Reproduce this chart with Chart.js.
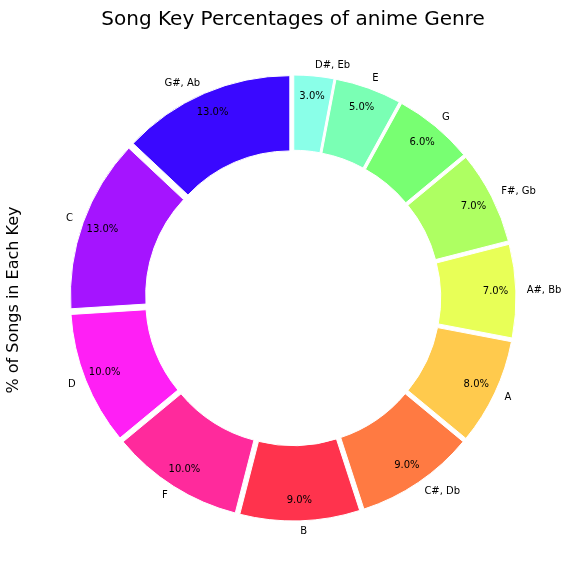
<!DOCTYPE html>
<html>
<head>
  <meta charset="UTF-8">
  <title>Song Key Percentages of anime Genre</title>
  <script src="https://cdn.jsdelivr.net/npm/chart.js"></script>
  <style>
    html, body { margin: 0; padding: 0; background: #fff; }
    #wrap { width: 576px; height: 576px; }
  </style>
</head>
<body>
  <div id="wrap">
    <canvas id="myChart" width="576" height="576"></canvas>
  </div>
  <script>
    // keys, clockwise from 12 o'clock
    const keys = ["D#, Eb", "E", "G", "F#, Gb", "A#, Bb", "A", "C#, Db", "B", "F", "D", "C", "G#, Ab"];
    const percents = [3, 5, 6, 7, 7, 8, 9, 9, 10, 10, 13, 13];
    const colors = [
      '#8affe8', '#7affb4', '#78ff72', '#aeff62', '#e8ff57', '#ffca4d',
      '#ff7a42', '#ff334d', '#ff2a9c', '#ff1ff5', '#a514ff', '#3a08ff'
    ];

    const titleText = 'Song Key Percentages of anime Genre';
    const yLabel = '% of Songs in Each Key';
    const EXPLODE = 8;   // px each slice is pushed out
    const FONT = '"DejaVu Sans", sans-serif';

    // pull slices out like matplotlib explode
    const explodePlugin = {
      id: 'explode',
      beforeDatasetDraw(chart, args) {
        const ctx = chart.ctx;
        args.meta.data.forEach(arc => {
          const mid = (arc.startAngle + arc.endAngle) / 2;
          ctx.save();
          ctx.translate(Math.cos(mid) * EXPLODE, Math.sin(mid) * EXPLODE);
          arc.draw(ctx, chart.chartArea);
          ctx.restore();
        });
        return false;
      }
    };

    // key names, percentages, title and side label
    const textPlugin = {
      id: 'texts',
      afterDatasetsDraw(chart) {
        const ctx = chart.ctx;
        const meta = chart.getDatasetMeta(0);
        ctx.save();
        ctx.fillStyle = '#000';
        meta.data.forEach((arc, i) => {
          const mid = (arc.startAngle + arc.endAngle) / 2;
          const cx = arc.x + Math.cos(mid) * EXPLODE;
          const cy = arc.y + Math.sin(mid) * EXPLODE;
          const R = arc.outerRadius;
          ctx.font = '10px ' + FONT;
          ctx.textBaseline = 'middle';
          ctx.textAlign = 'center';
          ctx.fillText(percents[i].toFixed(1) + '%', cx + Math.cos(mid) * R * 0.905, cy + Math.sin(mid) * R * 0.905);
          ctx.textAlign = Math.cos(mid) > 0 ? 'left' : 'right';
          ctx.fillText(keys[i], cx + Math.cos(mid) * R * 1.05, cy + Math.sin(mid) * R * 1.05);
        });

        ctx.textAlign = 'center';
        ctx.textBaseline = 'middle';
        ctx.font = '20px ' + FONT;
        ctx.fillText(titleText, 293, 20);

        ctx.translate(14, 300);
        ctx.rotate(-Math.PI / 2);
        ctx.font = '16px ' + FONT;
        ctx.fillText(yLabel, 0, 0);
        ctx.restore();
      }
    };

    new Chart(document.getElementById('myChart'), {
      type: 'doughnut',
      data: {
        labels: keys,
        datasets: [{
          data: percents,
          backgroundColor: colors,
          borderColor: '#ffffff',
          borderWidth: 1,
          radius: 215,
          offset: 0,
          hoverOffset: 0
        }]
      },
      options: {
        responsive: false,
        animation: false,
        devicePixelRatio: 1,
        cutout: '65%',
        layout: { padding: { left: 20, right: 10, top: 30, bottom: 10 } },
        plugins: {
          legend: { display: false },
          tooltip: { enabled: false }
        }
      },
      plugins: [explodePlugin, textPlugin]
    });
  </script>
</body>
</html>
